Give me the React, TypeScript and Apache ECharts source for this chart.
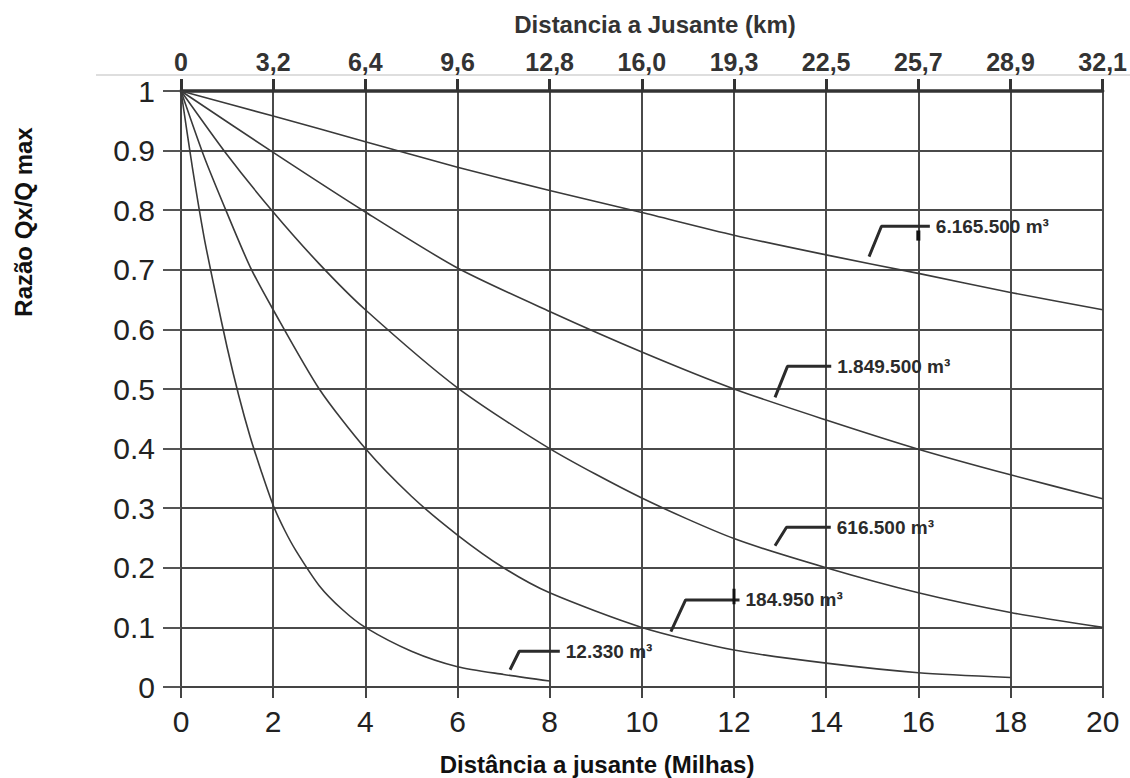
import React, { useEffect, useRef } from "react";
import * as echarts from "echarts";

// Top axis labels (km) matching bottom miles ticks 0..20 step 2
const kmLabels = ["0", "3,2", "6,4", "9,6", "12,8", "16,0", "19,3", "22,5", "25,7", "28,9", "32,1"];

// Curves: x in miles, y = Qx/Qmax
const x12330 = [0, 0.25, 0.5, 0.75, 1, 1.25, 1.5, 1.75, 2, 2.25, 2.5, 3, 3.5, 4, 5, 6, 7, 8];
const y12330 = [1, 0.87, 0.755, 0.66, 0.57, 0.49, 0.42, 0.36, 0.305, 0.263, 0.228, 0.17, 0.13, 0.1, 0.06, 0.034, 0.021, 0.01];

const x184950 = [0, 0.5, 1, 1.5, 2, 3, 4, 5, 6, 7, 8, 10, 12, 14, 16, 18];
const y184950 = [1, 0.89, 0.795, 0.705, 0.633, 0.5, 0.4, 0.32, 0.255, 0.2, 0.158, 0.1, 0.062, 0.04, 0.024, 0.016];

const x616500 = [0, 1, 2, 3, 4, 6, 8, 10, 12, 14, 16, 18, 20];
const y616500 = [1, 0.893, 0.797, 0.71, 0.633, 0.502, 0.4, 0.317, 0.249, 0.2, 0.158, 0.125, 0.1];

const x1849500 = [0, 2, 4, 6, 8, 10, 12, 14, 16, 18, 20];
const y1849500 = [1, 0.897, 0.797, 0.703, 0.63, 0.562, 0.5, 0.448, 0.399, 0.356, 0.316];

const x6165500 = [0, 2, 4, 6, 8, 10, 12, 14, 16, 18, 20];
const y6165500 = [1, 0.958, 0.915, 0.872, 0.833, 0.796, 0.758, 0.725, 0.694, 0.662, 0.633];

// Leader lines for the labels (data coordinates)
const leaderNames = ["6.165.500 m³", "1.849.500 m³", "616.500 m³", "184.950 m³", "12.330 m³"];
const leaderX = [
  [14.93, 15.2, 16.25],
  [12.89, 13.16, 14.11],
  [12.89, 13.14, 14.1],
  [10.63, 10.95, 12.12],
  [7.14, 7.34, 8.22],
];
const leaderY = [
  [0.722, 0.773, 0.773],
  [0.486, 0.538, 0.538],
  [0.237, 0.268, 0.268],
  [0.093, 0.146, 0.146],
  [0.029, 0.06, 0.06],
];

const FONT = "'Liberation Sans', Arial, Helvetica, sans-serif";
const INK = "#2b2b2b";

const zip = (xs: number[], ys: number[]) => xs.map((x, i) => [x, ys[i]]);

export default function App() {
  const ref = useRef<HTMLDivElement>(null);

  useEffect(() => {
    if (!ref.current) return;
    const chart = echarts.init(ref.current, undefined, { renderer: "svg" });

    const curve = (name: string, xs: number[], ys: number[]) => ({
      name,
      type: "line",
      data: zip(xs, ys),
      smooth: 0.25,
      showSymbol: false,
      symbol: "none",
      lineStyle: { color: "#3a3a3a", width: 1.6 },
      z: 3,
    });

    const leaders = leaderNames.map((nm, i) => ({
      name: "leader-" + i,
      type: "line",
      data: zip(leaderX[i], leaderY[i]),
      symbol: "none",
      showSymbol: false,
      lineStyle: { color: INK, width: 3 },
      z: 4,
      endLabel: {
        show: true,
        formatter: () => nm,
        color: INK,
        fontSize: 19,
        fontWeight: "bold",
        fontFamily: FONT,
        distance: 6,
      },
    }));

    const option: any = {
      animation: false,
      backgroundColor: "#fff",
      grid: { left: 181, right: 25, top: 91, bottom: 91, containLabel: false },
      xAxis: [
        {
          type: "value",
          position: "bottom",
          min: 0,
          max: 20,
          interval: 2,
          axisLine: { show: true, lineStyle: { color: "#444", width: 2 } },
          axisTick: { show: true, length: 11, lineStyle: { color: "#444", width: 2 } },
          axisLabel: {
            color: "#222",
            fontSize: 30,
            fontFamily: FONT,
            margin: 19,
          },
          splitLine: { show: true, lineStyle: { color: "#4a4a4a", width: 2 } },
        },
        {
          type: "value",
          position: "top",
          min: 0,
          max: 20,
          interval: 2,
          axisLine: { show: true, lineStyle: { color: "#333", width: 3.5 } },
          axisTick: { show: true, length: 12, lineStyle: { color: "#333", width: 3 } },
          axisLabel: {
            color: "#333",
            fontSize: 25,
            fontWeight: "bold",
            fontFamily: FONT,
            margin: 17,
            formatter: (v: number) => kmLabels[Math.round(v / 2)] ?? "",
          },
          splitLine: { show: false },
        },
      ],
      yAxis: {
        type: "value",
        min: 0,
        max: 1,
        interval: 0.1,
        axisLine: { show: true, lineStyle: { color: "#444", width: 2 } },
        axisTick: { show: true, length: 18, lineStyle: { color: "#555", width: 2 } },
        axisLabel: {
          color: "#222",
          fontSize: 30,
          fontFamily: FONT,
          margin: 26,
          formatter: (v: number) => (v === 0 ? "0" : v >= 0.999 ? "1" : v.toFixed(1)),
        },
        splitLine: { show: true, lineStyle: { color: "#4a4a4a", width: 2 } },
      },
      series: [
        curve("12.330", x12330, y12330),
        curve("184.950", x184950, y184950),
        curve("616.500", x616500, y616500),
        curve("1.849.500", x1849500, y1849500),
        curve("6.165.500", x6165500, y6165500),
        ...leaders,
        {
          name: "mark-a",
          type: "line",
          data: [[16, 0.749], [16, 0.766]],
          symbol: "none",
          lineStyle: { color: "#111", width: 4 },
          z: 4,
        },
        {
          name: "mark-b",
          type: "line",
          data: [[12, 0.139], [12, 0.165]],
          symbol: "none",
          lineStyle: { color: "#111", width: 3 },
          z: 4,
        },
      ],
      graphic: [
        {
          type: "line",
          shape: { x1: 96, y1: 75, x2: 1130, y2: 75 },
          style: { stroke: "#bdbdbd", lineWidth: 1 },
          silent: true,
        },
        {
          type: "text",
          x: 655,
          y: 24,
          style: {
            text: "Distancia a Jusante (km)",
            align: "center",
            verticalAlign: "middle",
            fill: "#333",
            font: `bold 24px ${FONT}`,
          },
        },
        {
          type: "text",
          x: 597,
          y: 764,
          style: {
            text: "Distância a jusante (Milhas)",
            align: "center",
            verticalAlign: "middle",
            fill: "#111",
            font: `bold 24px ${FONT}`,
          },
        },
        {
          type: "text",
          x: 23,
          y: 222,
          rotation: Math.PI / 2,
          style: {
            text: "Razão Qx/Q max",
            align: "center",
            verticalAlign: "middle",
            fill: "#111",
            font: `bold 24px ${FONT}`,
          },
        },
      ],
    };

    chart.setOption(option);
    return () => chart.dispose();
  }, []);

  return (
    <div
      ref={ref}
      style={{ position: "fixed", left: 0, top: 0, width: 1130, height: 778, background: "#fff" }}
    />
  );
}
